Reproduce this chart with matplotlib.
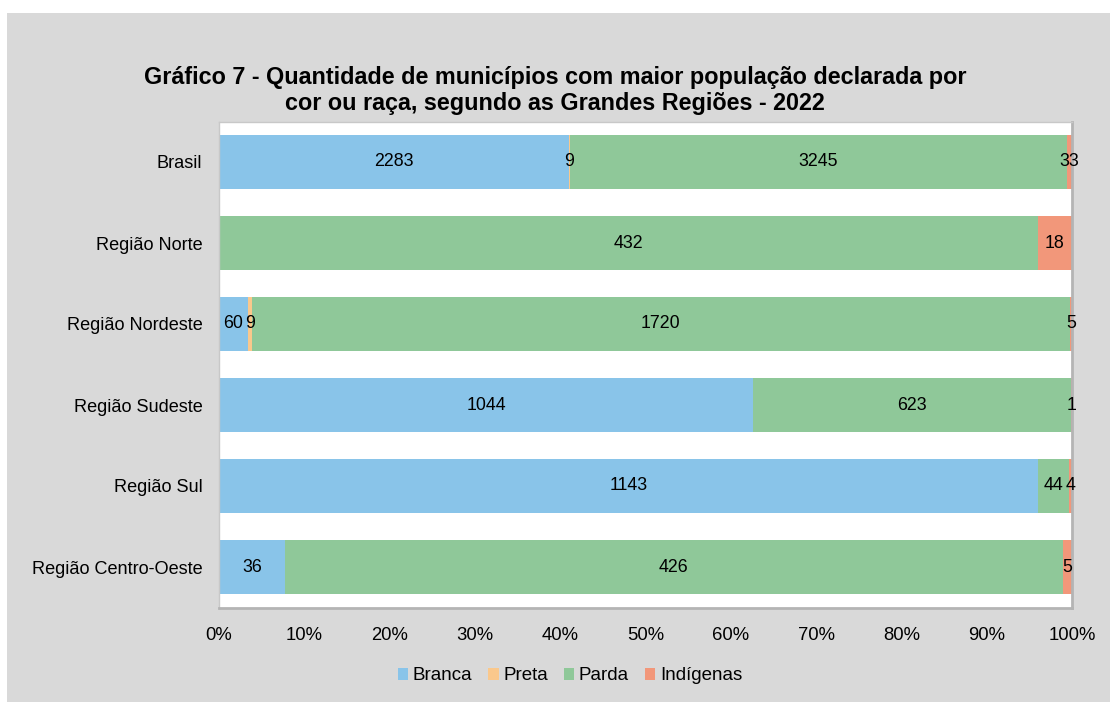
import matplotlib
matplotlib.use('Agg')
import matplotlib.pyplot as plt
import numpy as np
from matplotlib.patches import Rectangle

plt.rcParams['font.family'] = ['Liberation Sans', 'DejaVu Sans']

regioes = ['Brasil', 'Região Norte', 'Região Nordeste', 'Região Sudeste',
           'Região Sul', 'Região Centro-Oeste']
categorias = ['Branca', 'Preta', 'Parda', 'Indígenas']
branca = [2283, 0, 60, 1044, 1143, 36]
preta = [9, 0, 9, 0, 0, 0]
parda = [3245, 432, 1720, 623, 44, 426]
indigenas = [33, 18, 5, 1, 4, 5]

cores = ['#89C4E9', '#FAC88C', '#8FC899', '#F2977A']

series = np.array([branca, preta, parda, indigenas], dtype=float)
totais = series.sum(axis=0)
perc = series / totais

fig = plt.figure(figsize=(11.1, 7.02), dpi=100, facecolor='white')
# fundo cinza do grafico
fig.patches.append(Rectangle((7/1110, 0), 1 - 7/1110, 1 - 13/702,
                             transform=fig.transFigure, facecolor='#d9d9d9',
                             edgecolor='none', zorder=-10))

ax = fig.add_axes([219/1110, 1 - 607.5/702, (1072 - 219)/1110, 486/702])
ax.set_facecolor('white')

y_pos = np.arange(len(regioes))
esquerda = np.zeros(len(regioes))
for i in range(len(categorias)):
    rects = ax.barh(y_pos, perc[i], left=esquerda, height=0.667,
                    color=cores[i], label=categorias[i], edgecolor='none')
    for j, rect in enumerate(rects):
        if series[i][j] > 0:
            ax.text(rect.get_x() + rect.get_width()/2., rect.get_y() + rect.get_height()/2.,
                    str(int(series[i][j])), ha='center', va='center',
                    fontsize=12.8, color='black')
    esquerda += perc[i]

ax.set_xlim(0, 1)
ax.set_ylim(5.5, -0.5)
ax.set_yticks(y_pos)
ax.set_yticklabels(regioes, fontsize=13.1)
ax.set_xticks(np.arange(0, 1.01, 0.1))
ax.set_xticklabels([str(p) + '%' for p in range(0, 101, 10)], fontsize=13.3)
ax.tick_params(axis='both', length=0)
ax.tick_params(axis='y', pad=12)
ax.tick_params(axis='x', pad=14)
for s in ['top', 'left']:
    ax.spines[s].set_color('#c8c8c8')
    ax.spines[s].set_linewidth(1)
for s in ['right', 'bottom']:
    ax.spines[s].set_color('#b4b4b4')
    ax.spines[s].set_linewidth(2)

fig.text(0.5, 1 - 90.5/702,
         'Gráfico 7 - Quantidade de municípios com maior população declarada por\n'
         'cor ou raça, segundo as Grandes Regiões - 2022',
         ha='center', va='center', fontsize=16.8, fontweight='bold', linespacing=1.18)

ax.legend(loc='center', bbox_to_anchor=(570/1110, 1 - 676/702), bbox_transform=fig.transFigure,
          ncol=4, frameon=False, fontsize=13.5, handlelength=0.55, handleheight=0.55,
          handletextpad=0.25, columnspacing=0.85)

fig.savefig('out.png', dpi=100, facecolor=fig.get_facecolor())
